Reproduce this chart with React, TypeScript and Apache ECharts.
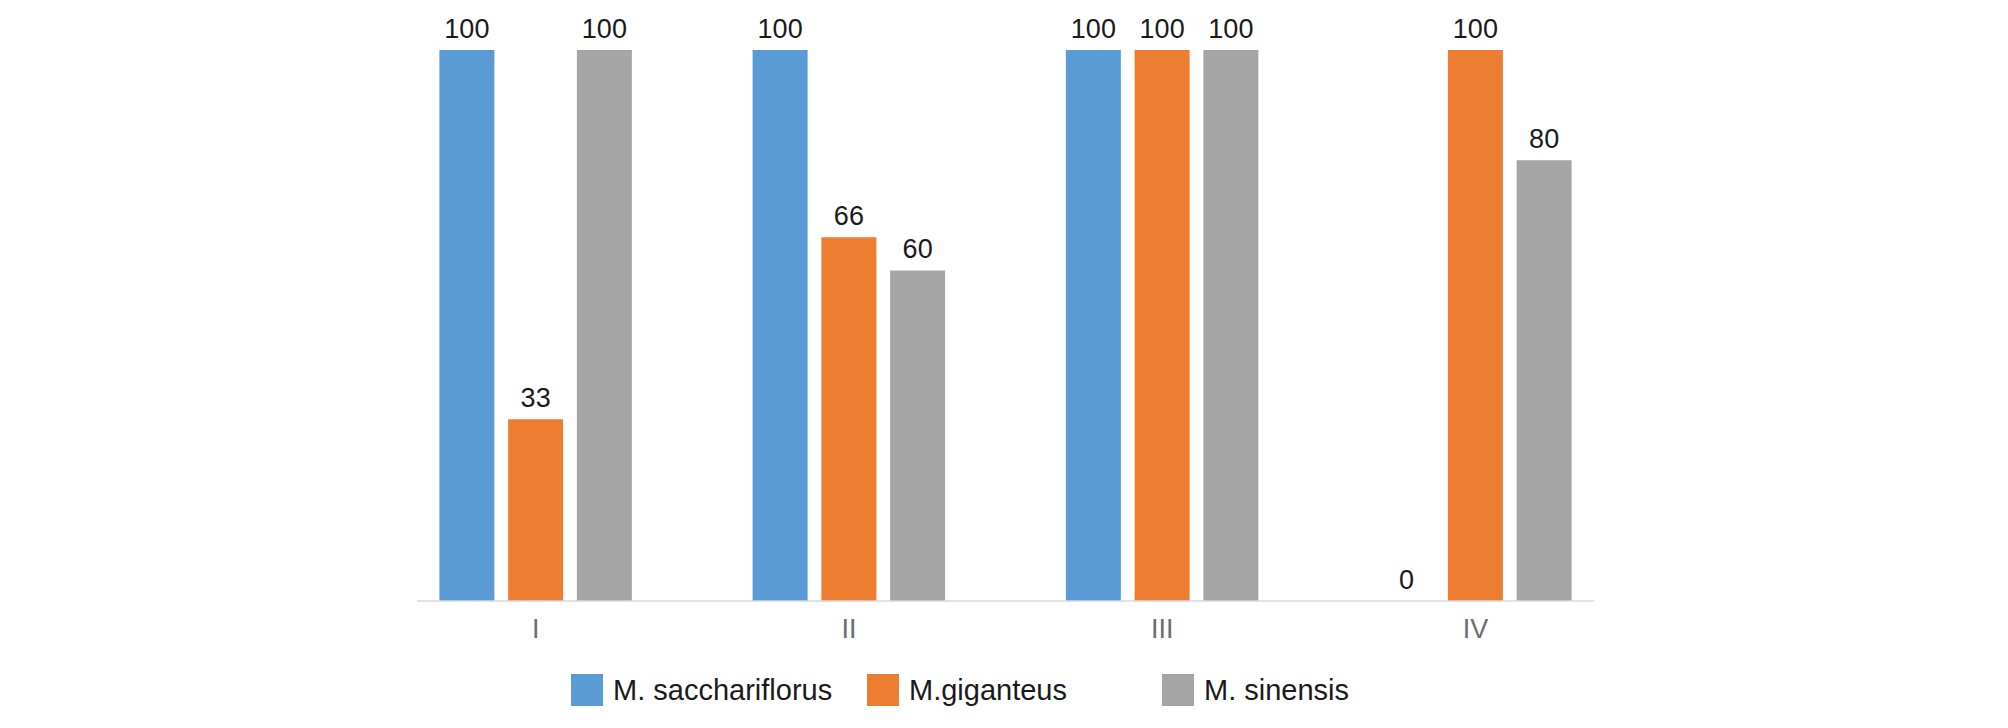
import React, { useEffect, useRef } from "react";
import * as echarts from "echarts";

const categories = ["I", "II", "III", "IV"];
const seriesNames = ["M. sacchariflorus", "M.giganteus", "M. sinensis"];
const sacchariflorus = [100, 100, 100, 0];
const giganteus = [33, 66, 100, 100];
const sinensis = [100, 60, 100, 80];
const colors = ["#5B9BD5", "#ED7D31", "#A5A5A5"];
const legendLefts = [571, 867, 1162];

const FONT = "'Liberation Sans', Arial, Helvetica, sans-serif";

export default function App() {
  const ref = useRef<HTMLDivElement>(null);
  useEffect(() => {
    if (!ref.current) return;
    const chart = echarts.init(ref.current, null, { renderer: "svg" });
    const values = [sacchariflorus, giganteus, sinensis];
    chart.setOption({
      animation: false,
      backgroundColor: "#ffffff",
      grid: { left: 379, top: 50, width: 1253, height: 551, containLabel: false },
      xAxis: {
        type: "category",
        data: categories,
        axisLine: { show: false },
        axisTick: { show: false },
        axisLabel: { color: "#6e6e6e", fontSize: 27, fontFamily: FONT, margin: 14 },
      },
      yAxis: { type: "value", min: 0, max: 100, show: false, splitLine: { show: false } },
      legend: seriesNames.map((name, i) => ({
        left: legendLefts[i],
        top: 674,
        padding: 0,
        itemWidth: 32,
        itemHeight: 32,
        itemGap: 0,
        icon: "rect",
        selectedMode: false,
        textStyle: {
          color: "#1a1a1a",
          fontSize: 29,
          fontFamily: FONT,
          padding: [0, 0, 0, 5],
        },
        data: [name],
      })),
      graphic: [
        {
          type: "line",
          shape: { x1: 417, y1: 601, x2: 1594, y2: 601 },
          style: { stroke: "#d9d9d9", lineWidth: 1.5 },
          z: 10,
        },
      ],
      series: seriesNames.map((name, i) => ({
        name,
        type: "bar",
        data: values[i],
        barWidth: 55,
        barGap: "25%",
        itemStyle: { color: colors[i] },
        label: {
          show: true,
          position: "top",
          distance: 8,
          color: "#1a1a1a",
          fontSize: 27,
          fontFamily: FONT,
        },
      })),
    });
    return () => chart.dispose();
  }, []);
  return (
    <div
      ref={ref}
      style={{ position: "fixed", left: 0, top: 0, width: 2008, height: 728 }}
    />
  );
}
